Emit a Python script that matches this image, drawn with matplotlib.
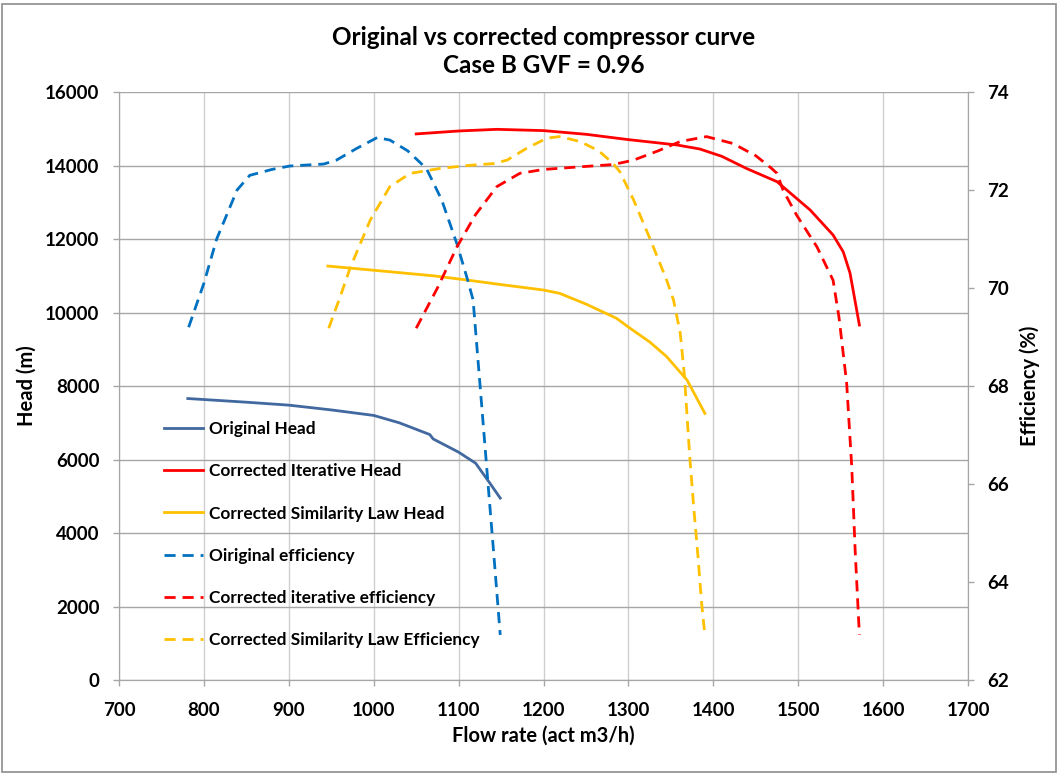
import matplotlib.pyplot as plt
from matplotlib.lines import Line2D
from matplotlib.patches import Rectangle

plt.rcParams.update({
    "font.family": ["Lato", "DejaVu Sans"],
    "font.weight": "bold",
    "axes.titleweight": "bold",
    "axes.labelweight": "bold",
})

# original curve
orig_q = [781, 850, 900, 950, 1000, 1030, 1066, 1070, 1100, 1120, 1137, 1149]
orig_head = [7660, 7560, 7480, 7350, 7200, 7000, 6680, 6560, 6200, 5900, 5350, 4950]
orig_eff_q = [782, 800, 815, 839, 854, 880, 901, 941, 956, 980, 1004, 1019, 1040,
              1062, 1080, 1098, 1110, 1117, 1125, 1133, 1141, 1149]
orig_eff = [69.2, 70.1, 71.0, 72.0, 72.3, 72.42, 72.49, 72.53, 72.61, 72.85, 73.07,
            73.02, 72.8, 72.44, 71.8, 70.9, 70.2, 69.76, 68.06, 66.35, 64.65, 62.92]

# corrected, iterative
iter_q = [1050, 1100, 1145, 1200, 1250, 1298, 1357, 1384, 1410, 1439, 1475, 1514,
          1541, 1553, 1561, 1572]
iter_head = [14860, 14940, 14985, 14950, 14850, 14710, 14560, 14450, 14250, 13920,
             13560, 12790, 12110, 11650, 11070, 9660]
iter_eff_q = [1050, 1075, 1098, 1120, 1145, 1172, 1200, 1240, 1282, 1306, 1335, 1361,
              1392, 1423, 1450, 1468, 1475, 1482, 1498, 1522, 1541, 1548, 1557, 1563,
              1567, 1572]
iter_eff = [69.18, 70.0, 70.84, 71.5, 72.07, 72.34, 72.42, 72.47, 72.52, 72.61, 72.8,
            72.99, 73.09, 72.95, 72.7, 72.45, 72.34, 72.0, 71.49, 70.84, 70.16, 69.4,
            68.06, 66.35, 64.65, 62.92]

# corrected, similarity law
sim_q = [946, 1000, 1031, 1070, 1110, 1150, 1200, 1219, 1250, 1286, 1302, 1325,
         1345, 1369, 1390]
sim_head = [11265, 11150, 11084, 11000, 10884, 10760, 10612, 10522, 10230, 9842,
            9570, 9200, 8800, 8163, 7257]
sim_eff_q = [947, 960, 972, 984, 996, 1019, 1043, 1078, 1110, 1141, 1157, 1180, 1204,
             1219, 1243, 1265, 1282, 1290, 1306, 1326, 1345, 1353, 1361, 1366, 1372,
             1377, 1382, 1386, 1390]
sim_eff = [69.18, 69.8, 70.4, 70.9, 71.39, 72.07, 72.34, 72.44, 72.5, 72.54, 72.61,
           72.85, 73.06, 73.09, 72.99, 72.8, 72.54, 72.37, 71.8, 70.98, 70.16, 69.76,
           69.08, 68.2, 66.6, 65.5, 64.5, 63.6, 62.92]

c_orig_head = "#41689F"
c_orig_eff = "#0070C0"
c_red = "#FF0000"
c_yel = "#FFC000"
dash = (4, 2.5)
lw = 2.0

fig = plt.figure(figsize=(10.58, 7.74), dpi=100)
fig.patches.append(Rectangle((0.002, 0.002), 0.996, 0.993, transform=fig.transFigure,
                             fill=False, edgecolor="#8C8C8C", linewidth=1.2))
ax = fig.add_axes([0.1125, 0.1214, 0.8025, 0.7597])
ax2 = ax.twinx()

ax.plot(orig_q, orig_head, color=c_orig_head, lw=lw)
ax.plot(iter_q, iter_head, color=c_red, lw=lw)
ax.plot(sim_q, sim_head, color=c_yel, lw=lw)
ax2.plot(orig_eff_q, orig_eff, color=c_orig_eff, lw=lw, dashes=dash)
ax2.plot(iter_eff_q, iter_eff, color=c_red, lw=lw, dashes=dash)
ax2.plot(sim_eff_q, sim_eff, color=c_yel, lw=lw, dashes=dash)

ax.set_xlim(700, 1700)
ax.set_ylim(0, 16000)
ax2.set_ylim(62, 74)
ax.set_xticks(range(700, 1701, 100))
ax.set_yticks(range(0, 16001, 2000))
ax2.set_yticks(range(62, 75, 2))

ax.grid(axis="x", color="#CFCFCF", lw=1)
ax.grid(axis="y", color="#A6A6A6", lw=1)
ax.set_axisbelow(True)
for a in (ax, ax2):
    for s in a.spines.values():
        s.set_color("#A6A6A6")
    a.spines["top"].set_visible(False)
    a.tick_params(colors="#A6A6A6", labelcolor="black", labelsize=13.5, length=4.5, width=1)
ax.tick_params(axis="x", pad=11)
ax.tick_params(axis="y", pad=9.5)
ax2.tick_params(axis="y", pad=9)

ax.set_xlabel("Flow rate (act m3/h)", fontsize=14.5, labelpad=5)
ax.set_ylabel("Head (m)", fontsize=14.5, labelpad=6)
ax2.set_ylabel("Efficiency (%)", fontsize=14.5, labelpad=8)
ax.set_title("Original vs corrected compressor curve\nCase B GVF = 0.96",
             fontsize=17.5, linespacing=1.25, pad=14)

handles = [
    Line2D([], [], color=c_orig_head, lw=lw),
    Line2D([], [], color=c_red, lw=lw),
    Line2D([], [], color=c_yel, lw=lw),
    Line2D([], [], color=c_orig_eff, lw=lw, dashes=dash),
    Line2D([], [], color=c_red, lw=lw, dashes=dash),
    Line2D([], [], color=c_yel, lw=lw, dashes=dash),
]
labels = ["Original Head", "Corrected Iterative Head", "Corrected Similarity Law Head",
          "Oiriginal efficiency", "Corrected iterative efficiency",
          "Corrected Similarity Law Efficiency"]
ax2.legend(handles, labels, loc="upper left", bbox_to_anchor=(0.0445, 0.452),
           frameon=False, fontsize=12.4, handlelength=2.3, handletextpad=0.35,
           labelspacing=1.52, borderaxespad=0)

fig.savefig("out.png", dpi=100)
